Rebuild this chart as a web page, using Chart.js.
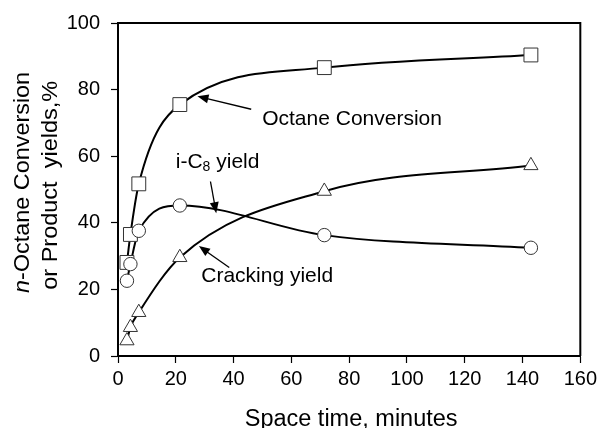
<!DOCTYPE html>
<html>
<head>
<meta charset="utf-8">
<script src="https://cdn.jsdelivr.net/npm/chart.js@4/dist/chart.umd.min.js"></script>
<style>
  html, body { margin: 0; padding: 0; background: #fff; }
  #wrap { width: 601px; height: 428px; }
</style>
</head>
<body>
<div id="wrap"><canvas id="c" width="601" height="428"></canvas></div>
<script>
// Space time (minutes) at which each sample was taken
const spaceTime = [3.1, 4.3, 7.2, 21.4, 71.4, 142.9];
// n-octane conversion, %
const octaneConversion = [28.1, 36.5, 51.7, 75.5, 86.6, 90.4];
// i-C8 (isomer) yield, %
const isoC8Yield = [22.6, 27.6, 37.6, 45.2, 36.3, 32.5];
// cracking products yield, %
const crackingYield = [4.6, 8.6, 13.1, 29.6, 49.5, 57.2];

const xTicks = [0, 20, 40, 60, 80, 100, 120, 140, 160];
const yTicks = [0, 20, 40, 60, 80, 100];

const FONT = '"Liberation Sans", Arial, Helvetica, sans-serif';

function pts(ys) { return spaceTime.map((x, i) => ({ x, y: ys[i] })); }

// smooth curve through a series (drawn beneath all markers)
function curve(ys) {
  return {
    data: pts(ys), showLine: true, borderColor: '#000', borderWidth: 2,
    cubicInterpolationMode: 'monotone', pointRadius: 0, pointHoverRadius: 0,
    fill: false, order: 3
  };
}
// open markers for a series; lower order is painted on top
function markers(ys, style, r, order) {
  return {
    data: pts(ys), showLine: false, pointStyle: style, pointRadius: r,
    pointBackgroundColor: '#fff', pointBorderColor: '#333', pointBorderWidth: 1,
    order
  };
}

// Callout labels with leader arrows, placed in data units
const callouts = [
  { text: 'Octane Conversion', x: 49.9, y: 71.2, from: [46.1, 74.1], to: [27.5, 78.0] },
  { text: 'i-C', sub: '8', rest: ' yield', x: 20.0, y: 58.3, from: [32.0, 52.4], to: [34.0, 42.9] },
  { text: 'Cracking yield', x: 28.8, y: 24.1, from: [38.5, 26.6], to: [28.0, 33.0] }
];

function arrow(ctx, x1, y1, x2, y2) {
  const a = Math.atan2(y2 - y1, x2 - x1);
  const L = 11, W = 4.5;
  ctx.beginPath();
  ctx.moveTo(x1, y1);
  ctx.lineTo(x2 - Math.cos(a) * L * 0.8, y2 - Math.sin(a) * L * 0.8);
  ctx.lineWidth = 1.3;
  ctx.strokeStyle = '#000';
  ctx.stroke();
  ctx.beginPath();
  ctx.moveTo(x2, y2);
  ctx.lineTo(x2 - Math.cos(a) * L - Math.sin(a) * W, y2 - Math.sin(a) * L + Math.cos(a) * W);
  ctx.lineTo(x2 - Math.cos(a) * L + Math.sin(a) * W, y2 - Math.sin(a) * L - Math.cos(a) * W);
  ctx.closePath();
  ctx.fillStyle = '#000';
  ctx.fill();
}

// Draws a vertical (bottom-to-top) text line made of runs, stretched to a given length
function verticalLine(ctx, runs, baseX, centerY, size, length) {
  ctx.save();
  ctx.translate(baseX, centerY);
  ctx.rotate(-Math.PI / 2);
  ctx.textBaseline = 'alphabetic';
  ctx.textAlign = 'left';
  let total = 0;
  runs.forEach(r => { ctx.font = (r.italic ? 'italic ' : '') + size + 'px ' + FONT; r.w = ctx.measureText(r.t).width; total += r.w; });
  const k = length / total;
  ctx.scale(k, 1);
  let x = -total / 2;
  runs.forEach(r => { ctx.font = (r.italic ? 'italic ' : '') + size + 'px ' + FONT; ctx.fillText(r.t, x, 0); x += r.w; });
  ctx.restore();
}

const decor = {
  id: 'decor',
  afterDraw(chart) {
    const { ctx, chartArea: ca, scales } = chart;
    const sx = scales.x, sy = scales.y;
    ctx.save();
    // frame on top and right
    ctx.strokeStyle = '#000';
    ctx.lineWidth = 2;
    ctx.beginPath();
    ctx.moveTo(ca.left, ca.top);
    ctx.lineTo(ca.right, ca.top);
    ctx.lineTo(ca.right, ca.bottom);
    ctx.stroke();

    // callouts
    ctx.fillStyle = '#000';
    ctx.textBaseline = 'middle';
    ctx.textAlign = 'left';
    callouts.forEach(c => {
      const px = sx.getPixelForValue(c.x), py = sy.getPixelForValue(c.y);
      ctx.font = '21px ' + FONT;
      ctx.fillText(c.text, px, py);
      if (c.sub) {
        let w = ctx.measureText(c.text).width;
        ctx.font = '14px ' + FONT;
        ctx.fillText(c.sub, px + w, py + 5);
        w += ctx.measureText(c.sub).width;
        ctx.font = '21px ' + FONT;
        ctx.fillText(c.rest, px + w, py);
      }
      arrow(ctx, sx.getPixelForValue(c.from[0]), sy.getPixelForValue(c.from[1]),
                 sx.getPixelForValue(c.to[0]), sy.getPixelForValue(c.to[1]));
    });

    // x axis title
    ctx.textAlign = 'center';
    ctx.textBaseline = 'alphabetic';
    ctx.font = '23.5px ' + FONT;
    ctx.fillText('Space time, minutes', (ca.left + ca.right) / 2 + 2, 426);

    // y axis title, two lines
    verticalLine(ctx, [{ t: 'n', italic: true }, { t: '-Octane Conversion' }], 28.5, 182.4, 21.5, 221);
    verticalLine(ctx, [{ t: 'or Product  yields,%' }], 57, 185.3, 21.5, 209);

    ctx.restore();
  }
};

new Chart(document.getElementById('c'), {
  type: 'scatter',
  data: {
    datasets: [
      curve(octaneConversion), curve(isoC8Yield), curve(crackingYield),
      markers(octaneConversion, 'rect', 9.8, 2),
      markers(isoC8Yield, 'circle', 6.7, 1),
      markers(crackingYield, 'triangle', 8.2, 1)
    ]
  },
  options: {
    responsive: false,
    animation: false,
    events: [],
    layout: { padding: { top: 21, right: 18, left: 0, bottom: 0 } },
    plugins: { legend: { display: false }, tooltip: { enabled: false } },
    scales: {
      x: {
        type: 'linear', min: 0, max: 160,
        afterBuildTicks: s => { s.ticks = xTicks.map(v => ({ value: v })); },
        afterFit: s => { s.height = 72; },
        grid: { display: true, drawOnChartArea: false, drawTicks: true, tickLength: 7, color: '#000', tickWidth: 1.2 },
        border: { display: true, color: '#000', width: 2 },
        ticks: { color: '#000', padding: 4, font: { family: FONT, size: 20 }, maxRotation: 0 }
      },
      y: {
        type: 'linear', min: 0, max: 100,
        afterBuildTicks: s => { s.ticks = yTicks.map(v => ({ value: v })); },
        afterFit: s => { s.width = 118; },
        grid: { display: true, drawOnChartArea: false, drawTicks: true, tickLength: 7, color: '#000', tickWidth: 1.2 },
        border: { display: true, color: '#000', width: 2 },
        ticks: { color: '#000', padding: 11, font: { family: FONT, size: 20 } }
      }
    }
  },
  plugins: [decor]
});
</script>
</body>
</html>
